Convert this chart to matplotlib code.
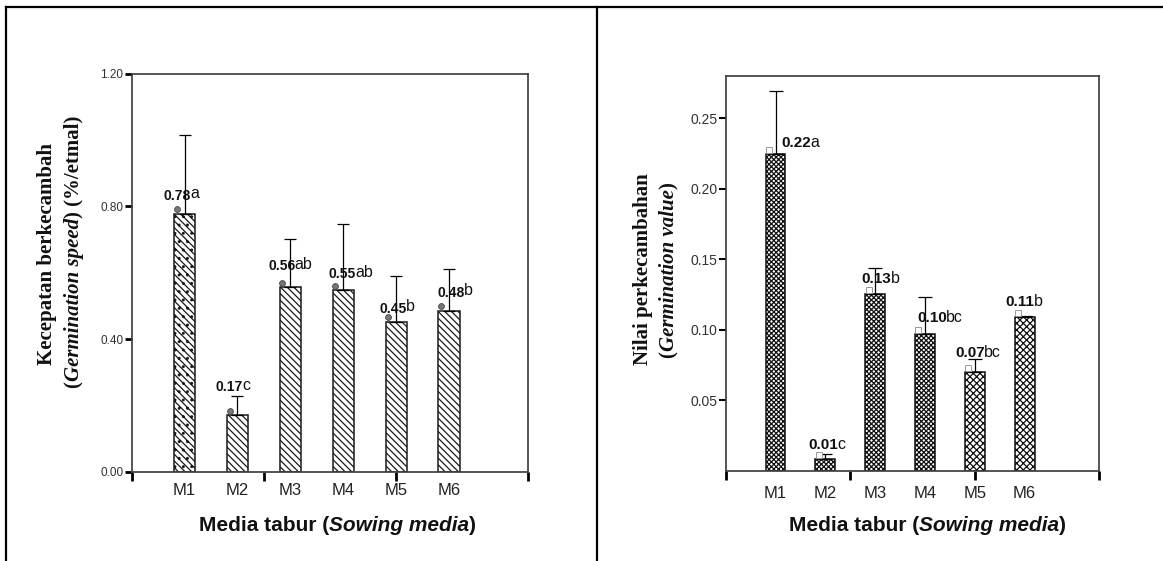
import matplotlib
matplotlib.use('Agg')
import matplotlib.pyplot as plt
from matplotlib.lines import Line2D
import numpy as np

# ---------------- data ----------------
categories = ['M1', 'M2', 'M3', 'M4', 'M5', 'M6']

speed_mean = [0.778, 0.171, 0.557, 0.548, 0.452, 0.485]
speed_err_top = [1.016, 0.230, 0.702, 0.748, 0.590, 0.611]
speed_numbers = ['0.78', '0.17', '0.56', '0.55', '0.45', '0.48']
speed_letters = ['a', 'c', 'ab', 'ab', 'b', 'b']

value_mean = [0.2244, 0.0085, 0.1253, 0.0966, 0.0696, 0.1090]
value_err_top = [0.2695, 0.0120, 0.1438, 0.1230, 0.0790, 0.1098]
value_numbers = ['0.22', '0.01', '0.13', '0.10', '0.07', '0.11']
value_letters = ['a', 'c', 'b', 'bc', 'bc', 'b']

left_yticks = [0.0, 0.4, 0.8, 1.2]
right_yticks = [0.05, 0.10, 0.15, 0.20, 0.25]

# ---------------- layout (pixels) ----------------
W, H = 1163, 561
left_lab_dx = [-21, -21.5, -22, -14.7, -16.5, -11.7]
left_lab_dy = [14, 24, 17, 11.7, 9.3, 14]
right_lab_dx = [5.7, -16.5, -13.5, -7.5, -19.5, -19]
right_lab_dy = [7.3, 9.3, 11, 12, 15.5, 11.4]

SANS = 'Liberation Sans'
SERIF = 'Liberation Serif'

plt.rcParams['hatch.linewidth'] = 0.9

fig = plt.figure(figsize=(W / 100, H / 100), dpi=100)
fig.patch.set_facecolor('white')
renderer = fig.canvas.get_renderer()


def px_axes(x0, y0_top, x1, y1_top):
    return fig.add_axes([x0 / W, (H - y1_top) / H, (x1 - x0) / W, (y1_top - y0_top) / H])


def rich(x_px, y_px, pieces, rot=False, center=False, kern=0.0):
    """pieces: list of (text, kwargs, raise_px). x_px, y_px in pixels from bottom-left (baseline start)."""
    objs = []
    total = 0
    for s, kw, rs in pieces:
        t = fig.text(0, 0, s, **kw)
        w = t.get_window_extent(renderer).width - kern
        objs.append((t, w, rs))
        total += w
    pos = -total / 2 if center else 0
    for t, w, rs in objs:
        if rot:
            t.set_position(((x_px - rs) / W, (y_px + pos) / H))
            t.set_rotation(90)
        else:
            t.set_position(((x_px + pos) / W, (y_px + rs) / H))
        t.set_rotation_mode('anchor')
        t.set_ha('left')
        t.set_va('baseline')
        pos += w


def style_axes(ax, ylim, yticks, ytick_size, ytick_width, cat_pad):
    ax.set_xlim(0, 7.5)
    ax.set_ylim(*ylim)
    ax.xaxis.remove_overlapping_locs = False
    for s in ax.spines.values():
        s.set_color('#404040')
        s.set_linewidth(1.25)
    ax.set_xticks([0, 2.5, 5, 7.5])
    ax.set_xticklabels([])
    ax.tick_params(axis='x', which='major', direction='out', length=6.5, width=2.0, color='black')
    ax.set_xticks(range(1, 7), minor=True)
    ax.set_xticklabels(categories, minor=True, fontsize=12, family=SANS, color='#222222')
    ax.tick_params(axis='x', which='minor', length=0, pad=cat_pad)
    ax.set_yticks(yticks)
    ax.set_yticklabels(['%.2f' % v for v in yticks], fontsize=ytick_size, family=SANS, color='#333333')
    ax.tick_params(axis='y', direction='out', length=5, width=ytick_width, color='black', pad=1)


x = np.arange(1, 7)

# ---------------- left panel ----------------
axL = px_axes(131.7, 73.5, 528.3, 472)
style_axes(axL, (0, 1.2), left_yticks, 8.5, 2.0, 8)
barsL = axL.bar(x, speed_mean, width=0.4, color='white', edgecolor='#1a1a1a', linewidth=1.1,
                zorder=2)
for i, b in enumerate(barsL):
    b.set_hatch('\\\\\\\\\\..' if i == 0 else '\\\\\\\\\\')
errL = np.array(speed_err_top) - np.array(speed_mean)
axL.errorbar(x, speed_mean, yerr=[np.zeros(6), errL], fmt='none', ecolor='black',
             elinewidth=0.9, capsize=4, capthick=0.9, zorder=3)
axL.plot(x - 0.15, np.array(speed_mean) + 0.0135, 'o', ms=4.2, mfc='#777777', mec='#444444',
         mew=0.6, zorder=4, linestyle='none')

# ---------------- right panel ----------------
axR = px_axes(725.7, 76, 1099.3, 470.5)
style_axes(axR, (0, 0.28), right_yticks, 10, 1.5, 11)
barsR = axR.bar(x, value_mean, width=0.4, color='white', edgecolor='#111111', linewidth=1.1,
                zorder=2)
for i, b in enumerate(barsR):
    b.set_hatch('xxxxxxx' if i < 4 else 'xxxxx')
errR = np.array(value_err_top) - np.array(value_mean)
axR.errorbar(x, value_mean, yerr=[np.zeros(6), errR], fmt='none', ecolor='black',
             elinewidth=0.9, capsize=5, capthick=0.9, zorder=3)
axR.plot(x - 0.13, np.array(value_mean) + 0.0028, 's', ms=4, mfc='white', mec='#999999',
         mew=0.7, zorder=4, linestyle='none')

fig.canvas.draw()


def bar_labels(ax, means, numbers, letters, dxs, dys, num_size, let_size, let_raise):
    for xi, m, n, l, dx, dy in zip(x, means, numbers, letters, dxs, dys):
        px, py = ax.transData.transform((xi, m))
        rich(px + dx, py + dy, [
            (n, dict(fontsize=num_size, family=SANS, weight='bold', color='#111111'), 0),
            (l, dict(fontsize=let_size, family=SANS, color='#111111'), let_raise),
        ], kern=0.8)


bar_labels(axL, speed_mean, speed_numbers, speed_letters, left_lab_dx, left_lab_dy, 10, 11.5, 1.5)
bar_labels(axR, value_mean, value_numbers, value_letters, right_lab_dx, right_lab_dy, 11, 11.5, 0)

# ---------------- axis titles ----------------
bold_sans = dict(fontsize=15, family=SANS, weight='bold', color='#111111')
bold_sans_it = dict(fontsize=15, family=SANS, weight='bold', style='italic', color='#111111')
for cx in (337.5, 927.5):
    rich(cx, H - 530.7, [('Media tabur (', bold_sans, 0), ('Sowing media', bold_sans_it, 0),
                         (')', bold_sans, 0)], center=True)

bold_serif = dict(fontsize=15, family=SERIF, weight='bold', color='#111111')
bold_serif_it = dict(fontsize=15, family=SERIF, weight='bold', style='italic', color='#111111')
rich(51.5, H - 254, [('Kecepatan berkecambah', bold_serif, 0)], rot=True, center=True)
rich(78.5, H - 252, [('(', bold_serif, 0), ('Germination speed', bold_serif_it, 0),
                     (') (%/etmal)', bold_serif, 0)], rot=True, center=True)
rich(648.5, H - 269, [('Nilai perkecambahan', bold_serif, 0)], rot=True, center=True)
rich(673.5, H - 270, [('(', bold_serif, 0), ('Germination value', bold_serif_it, 0),
                      (')', bold_serif, 0)], rot=True, center=True)

# ---------------- table frame ----------------
def frame_line(xs, ys):
    fig.add_artist(Line2D([v / W for v in xs], [(H - v) / H for v in ys], color='black',
                          linewidth=1.6, transform=fig.transFigure, solid_capstyle='projecting'))


frame_line([6, W], [7.3, 7.3])
frame_line([6, 6], [7.3, H])
frame_line([597, 597], [7.3, H])

fig.savefig('out.png', dpi=100, facecolor='white')
